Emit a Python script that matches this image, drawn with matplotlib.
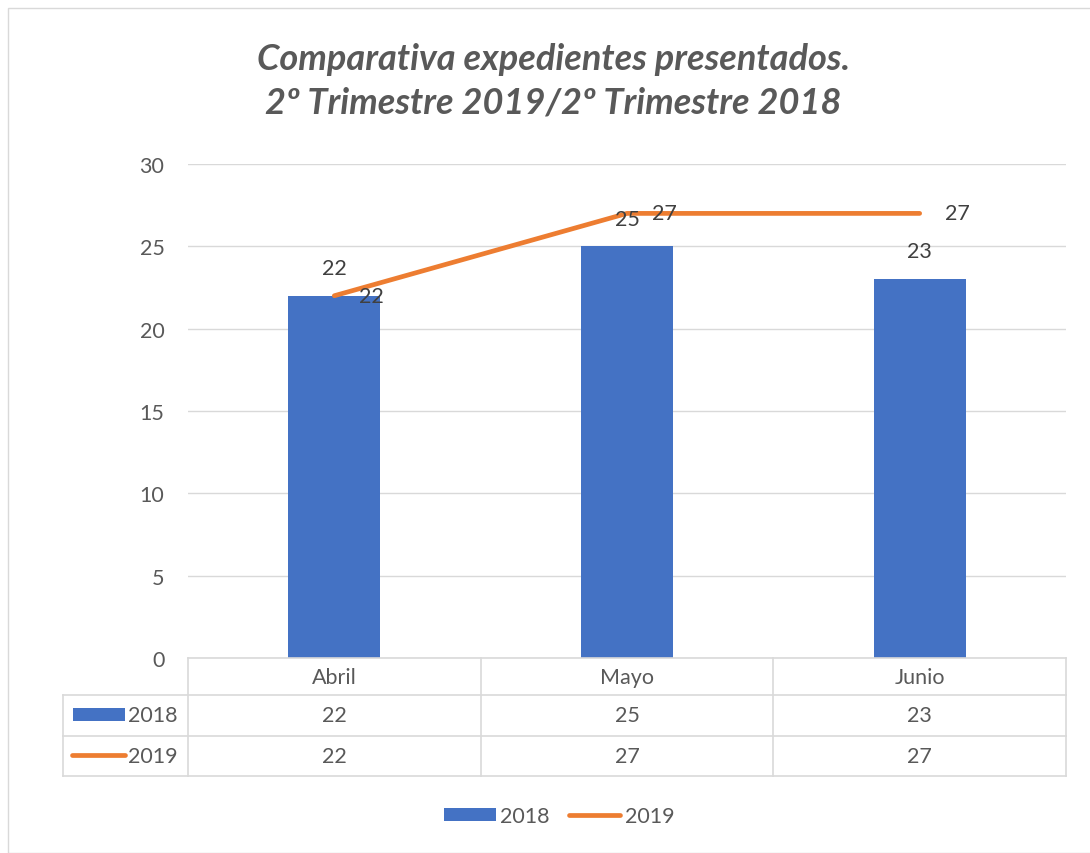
import matplotlib
matplotlib.use('Agg')
import matplotlib.pyplot as plt
from matplotlib.patches import Rectangle
from matplotlib.lines import Line2D

# datos
meses = ['Abril', 'Mayo', 'Junio']
valores_2018 = [22, 25, 23]
valores_2019 = [22, 27, 27]
series = ['2018', '2019']

AZUL = '#4472C4'
NARANJA = '#ED7D31'
GRIS = '#D9D9D9'
TEXTO = '#595959'
ETIQ = '#404040'
FS = 15.5

plt.rcParams['font.family'] = ['Lato', 'DejaVu Sans']

W, H = 1090, 854
fig = plt.figure(figsize=(W / 100, H / 100), dpi=100)

# borde del grafico
fig.patches.append(Rectangle((8 / W, 0), 2, 1 - 9 / H, transform=fig.transFigure,
                             facecolor='none', edgecolor=GRIS, linewidth=1))

ax = fig.add_axes([188 / W, 1 - 659 / H, (1066 - 188) / W, (659 - 165) / H])
x = list(range(len(meses)))
ax.bar(x, valores_2018, width=0.315, color=AZUL, zorder=2)
ax.plot(x, valores_2019, color=NARANJA, linewidth=3.4, solid_capstyle='round', zorder=3)

ax.set_xlim(-0.5, len(meses) - 0.5)
ax.set_ylim(0, 30)
ax.set_yticks(range(0, 31, 5))
ax.yaxis.grid(True, color=GRIS, linewidth=1)
ax.set_axisbelow(True)
for s in ax.spines.values():
    s.set_visible(False)
ax.tick_params(axis='y', length=0, pad=17, labelsize=FS, labelcolor=TEXTO)
ax.set_xticks([])

# etiquetas de datos
for xi, v in zip(x, valores_2018):
    ax.annotate(str(v), (xi, v), xytext=(0, 20), textcoords='offset points',
                ha='center', va='center', fontsize=FS, color=ETIQ)
for xi, v in zip(x, valores_2019):
    ax.annotate(str(v), (xi, v), xytext=(27, 0), textcoords='offset points',
                ha='center', va='center', fontsize=FS, color=ETIQ)

# titulo
fig.text(0.508, 1 - 60 / H, 'Comparativa expedientes presentados.', ha='center', va='center',
         fontsize=26, fontweight='bold', style='italic', color=TEXTO)
fig.text(0.508, 1 - 103 / H, '2º Trimestre 2019/2º Trimestre 2018', ha='center', va='center',
         fontsize=26, fontweight='bold', style='italic', color=TEXTO)

# tabla de datos
tr = ax.get_xaxis_transform()
ppu = (1066 - 188) / len(meses)


def py(p):
    return (659 - p) / 494.0


def pxd(p):
    return -0.5 + (p - 188) / ppu


filas = [659, 696, 737, 777]
x_izq = pxd(63)
x_der = len(meses) - 0.5
lin = dict(color=GRIS, linewidth=1.2, transform=tr, clip_on=False)
ax.add_line(Line2D([-0.5, x_der], [py(659)] * 2, **lin))
for f in filas[1:]:
    ax.add_line(Line2D([x_izq, x_der], [py(f)] * 2, **lin))
for i in range(len(meses) + 1):
    ax.add_line(Line2D([i - 0.5] * 2, [py(659), py(777)], **lin))
ax.add_line(Line2D([x_izq] * 2, [py(696), py(777)], **lin))

for i, m in enumerate(meses):
    ax.text(i, py(678), m, transform=tr, ha='center', va='center', fontsize=FS, color=TEXTO)
    ax.text(i, py(716.5), str(valores_2018[i]), transform=tr, ha='center', va='center',
            fontsize=FS, color=TEXTO)
    ax.text(i, py(757), str(valores_2019[i]), transform=tr, ha='center', va='center',
            fontsize=FS, color=TEXTO)

# claves de la tabla
ax.add_patch(Rectangle((pxd(73), py(722)), pxd(125) - pxd(73), py(709) - py(722), transform=tr,
                       facecolor=AZUL, edgecolor='none', clip_on=False))
ax.add_line(Line2D([pxd(72), pxd(125)], [py(756)] * 2, color=NARANJA, linewidth=3.4,
                   solid_capstyle='round', transform=tr, clip_on=False))
ax.text(pxd(128), py(716.5), series[0], transform=tr, ha='left', va='center', fontsize=FS, color=TEXTO)
ax.text(pxd(128), py(757), series[1], transform=tr, ha='left', va='center', fontsize=FS, color=TEXTO)

# leyenda
h1 = Rectangle((0, 0), 1, 1, facecolor=AZUL, edgecolor='none')
h2 = Line2D([], [], color=NARANJA, linewidth=3.4, solid_capstyle='round')
fig.legend([h1, h2], series, loc='center', bbox_to_anchor=(0.513, 1 - 817 / H), ncol=2,
           frameon=False, fontsize=FS, labelcolor=TEXTO, handlelength=2.4, handleheight=0.6,
           handletextpad=0.2, columnspacing=0.9)

plt.savefig('out.png', dpi=100)
